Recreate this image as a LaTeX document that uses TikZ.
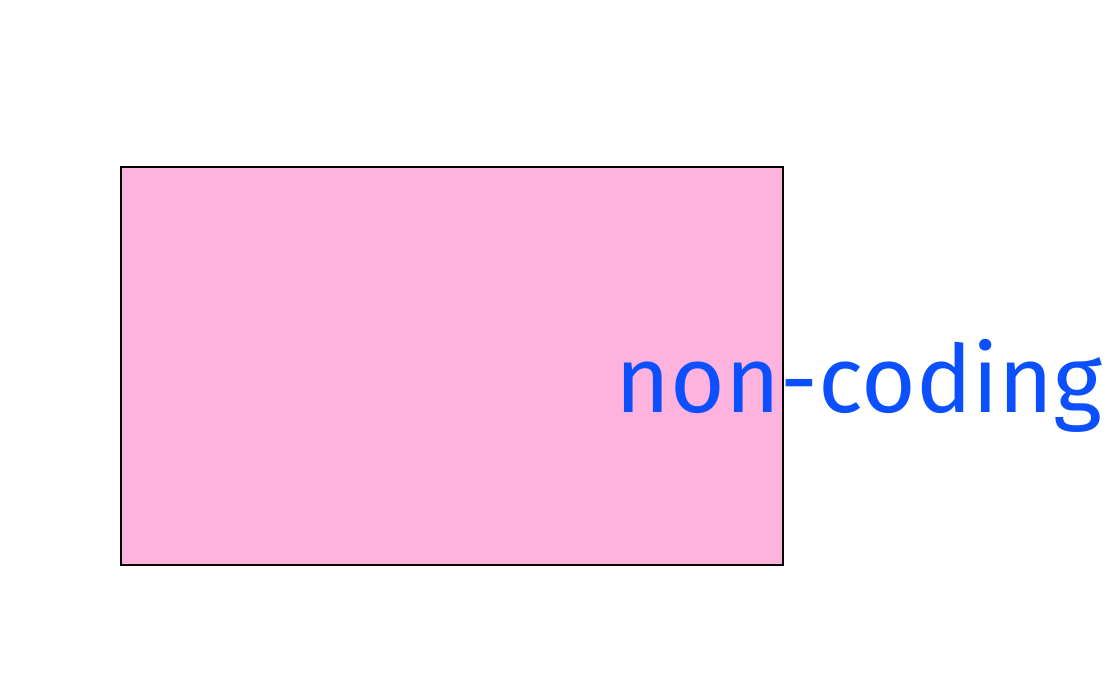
\documentclass[tikz,border=0pt]{standalone}
\usepackage{fontspec}
\setsansfont{Fira Sans}
\usetikzlibrary{positioning}
\definecolor{RegionPink}{HTML}{FDB3DD}
\definecolor{LabelBlue}{HTML}{0B4FFF}
\tikzset{
  regionbox/.style={draw=black,fill=RegionPink,line width=1pt,inner sep=0pt,
    minimum width=13.24cm,minimum height=7.96cm},
  biglabel/.style={text=LabelBlue,inner sep=0pt,font=\sffamily\fontsize{53.4}{58}\selectfont}
}
\begin{document}
\begin{tikzpicture}[x=1cm,y=1cm]
  \useasboundingbox (0,0) rectangle (22.24,13.68);

  \node[regionbox,anchor=south west] (region) at (2.4,2.36) {};
  \node[biglabel,anchor=base] (label) at (17.18,5.42) {non-coding};
\end{tikzpicture}
\end{document}
